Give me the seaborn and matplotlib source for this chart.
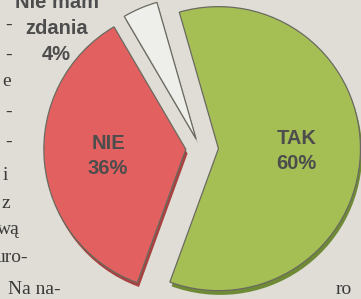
import matplotlib
matplotlib.use("Agg")
import matplotlib.pyplot as plt
import numpy as np
import seaborn as sns

answers = ["TAK", "NIE", "Nie mam\nzdania"]
shares = [60, 36, 4]
colors = ["#a5bf55", "#e2605f", "#eeeeea"]
side_colors = ["#6f8a35", "#a8413f", "#9a9a96"]
explode = [0.13, 0.1, 0.07]

paper = "#dfddd6"
ink = "#4d4d4d"

sns.set_theme(style="white")
plt.rcParams["font.family"] = ["Liberation Sans", "DejaVu Sans"]

fig = plt.figure(figsize=(3.61, 2.99), dpi=100)
fig.patch.set_facecolor(paper)
ax = fig.add_axes([0, 0, 1, 1])
ax.set_facecolor(paper)

# thickness of the "3d" disc, drawn under the top face
ax.pie(shares, colors=side_colors, explode=explode, startangle=106,
       counterclock=False, center=(0.012, -0.03),
       wedgeprops={"linewidth": 0})
wedges, _ = ax.pie(shares, colors=colors, explode=explode, startangle=106,
                   counterclock=False,
                   wedgeprops={"linewidth": 0.9, "edgecolor": "#6a6a60"})

# labels inside the two big slices
for w, name, val in zip(wedges[:2], answers[:2], shares[:2]):
    mid = np.deg2rad((w.theta1 + w.theta2) / 2)
    cx, cy = w.center
    ax.text(cx + 0.55 * np.cos(mid), cy + 0.55 * np.sin(mid), f"{name}\n{val}%",
            ha="center", va="center", color=ink, fontsize=14.5,
            fontweight="bold", linespacing=1.4)

# the small slice is labelled outside, top left
ax.text(-1.01, 0.84, f"{answers[2]}\n{shares[2]}%", ha="center", va="center",
        color=ink, fontsize=14.5, fontweight="bold", linespacing=1.45)

# fragments of the surrounding article text
serif = {"family": ["Liberation Serif", "DejaVu Serif"], "color": "#3a3a3a",
         "fontsize": 14}
fragments = [("-", 5, 25), ("-", 5, 55), ("e", 2, 82), ("-", 5, 112),
             ("-", 5, 142), ("i", 3, 175), ("z", 2, 204), ("wą", -3, 230),
             ("uro-", -4, 258), ("Na na-", 8, 289), ("ro", 336, 289),
             ("nie mam", 300, -7)]
for txt, px, py in fragments:
    fig.text(px / 361, 1 - py / 299, txt, ha="left", va="center", **serif)

ax.set_xlim(-200 / 142, 161 / 142)
ax.set_ylim(-151 / 142, 148 / 142)
ax.set_aspect("auto")
ax.axis("off")

fig.savefig("out.png", dpi=100, facecolor=paper)
